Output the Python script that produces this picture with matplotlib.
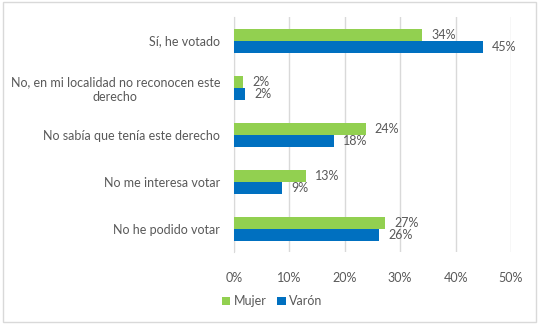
import matplotlib.pyplot as plt
import numpy as np
from matplotlib.patches import Rectangle

categories = ["Sí, he votado",
              "No, en mi localidad no reconocen este\nderecho",
              "No sabía que tenía este derecho",
              "No me interesa votar",
              "No he podido votar"]
mujer = [34.0, 1.7, 23.8, 13.0, 27.3]
varon = [44.9, 2.0, 18.1, 8.7, 26.2]
series_names = ["Mujer", "Varón"]
xticks = [0, 10, 20, 30, 40, 50]

green = "#92D050"
blue = "#0070C0"
txt = "#595959"

plt.rcParams['font.family'] = ['Lato', 'DejaVu Sans']

fig = plt.figure(figsize=(5.39, 3.24), dpi=100)
fig.patches.append(Rectangle((0.006, 0.006), 0.988, 0.988, transform=fig.transFigure,
                             fill=False, edgecolor="#D9D9D9", linewidth=1))
ax = fig.add_axes([0.434, 0.222, 0.514, 0.7255])

y = np.arange(len(categories))
h = 0.255
b1 = ax.barh(y - h / 2, mujer, height=h, color=green, label=series_names[0], zorder=3)
b2 = ax.barh(y + h / 2, varon, height=h, color=blue, label=series_names[1], zorder=3)

for bars, vals in ((b1, mujer), (b2, varon)):
    for bar, v in zip(bars, vals):
        ax.annotate(f"{round(v)}%", (v, bar.get_y() + bar.get_height() / 2),
                    xytext=(6.5, 0), textcoords="offset points",
                    ha="left", va="center", fontsize=9, color=txt)

ax.set_xlim(0, 50)
ax.set_ylim(4.5, -0.5)
ax.set_xticks(xticks)
ax.set_xticklabels([f"{t}%" for t in xticks])
ax.set_yticks(y)
ax.set_yticklabels(categories, ha="right", multialignment="center")
ax.tick_params(axis="both", length=0, labelsize=9, colors=txt)
ax.tick_params(axis="x", pad=14)
ax.tick_params(axis="y", pad=10)
ax.grid(axis="x", color="#D9D9D9", linewidth=1, zorder=0)
for s in ("top", "right", "bottom"):
    ax.spines[s].set_visible(False)
ax.spines["left"].set_color("#D9D9D9")

fig.legend(handles=[b1, b2], labels=series_names, loc="center",
           bbox_to_anchor=(0.505, 0.07), ncol=2, frameon=False,
           fontsize=9, labelcolor=txt, handlelength=0.7, handleheight=0.7,
           handletextpad=0.3, columnspacing=0.8)

fig.savefig("out.png", dpi=100)
